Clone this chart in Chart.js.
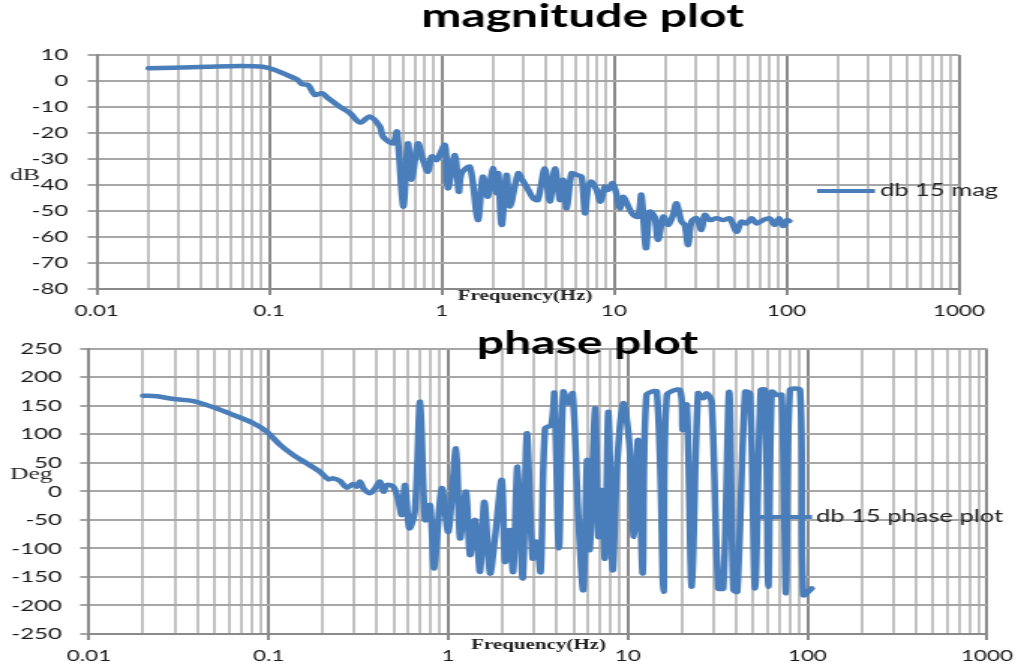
<!DOCTYPE html>
<html>
<head>
<meta charset="utf-8">
<script src="https://cdn.jsdelivr.net/npm/chart.js@4.4.1/dist/chart.umd.min.js"></script>
<style>
  html, body { margin: 0; padding: 0; background: #fff; }
  body { width: 1030px; height: 669px; position: relative; overflow: hidden; }
  canvas { position: absolute; left: 0; }
</style>
</head>
<body>
<canvas id="magChart" width="687" height="320" style="top:0;width:1030px;height:320px"></canvas>
<canvas id="phaseChart" width="687" height="349" style="top:320px;width:1030px;height:349px"></canvas>
<script>
// data -------------------------------------------------------------------------
const magFreq = [
  0.02, 0.028, 0.044, 0.068, 0.092, 0.105, 0.127, 0.145, 0.155, 0.168,
  0.184, 0.202, 0.219, 0.257, 0.294, 0.336, 0.384, 0.439, 0.457, 0.522,
  0.551, 0.599, 0.638, 0.67, 0.729, 0.78, 0.833, 0.875, 0.935, 1.045,
  1.088, 1.194, 1.259, 1.305, 1.459, 1.622, 1.734, 1.854, 1.982, 2.08,
  2.13, 2.23, 2.38, 2.49, 2.78, 2.94, 3.18, 3.4, 3.61, 3.97,
  4.24, 4.54, 4.85, 5.07, 5.31, 5.67, 6.06, 6.48, 6.78, 7.08,
  7.41, 7.92, 8.35, 8.85, 9.24, 9.8, 10.3, 10.8, 11.3, 12.1,
  12.9, 13.8, 14.4, 15.3, 16.1, 17.2, 18.0, 19.3, 20.6, 22.0,
  23.0, 24.6, 25.7, 26.9, 28.1, 30.1, 32.1, 33.6, 35.9, 39.3,
  42.9, 46.9, 51.3, 54.8, 58.6, 62.7, 67.0, 73.1, 80.0, 85.5,
  90.6, 95.5, 100.7, 104
];
const magDb = [
  4.9, 5.1, 5.5, 5.8, 5.5, 4.5, 2.3, 0.6, -1.2, -1.5,
  -5.4, -4.7, -6.5, -9.9, -12.3, -16, -13.7, -17.6, -21.4, -24,
  -19.5, -48.3, -24, -38, -24, -30.4, -34.9, -29, -30.4, -24.6,
  -41.3, -28.5, -42.6, -35.5, -33, -53.5, -36.8, -44.5, -33.5, -43.2,
  -35.5, -55.4, -36.1, -48.3, -35.5, -38, -41.9, -45.1, -45.8, -33.6,
  -46.4, -33.6, -45.8, -38, -49, -35.5, -36.1, -36.8, -50.9, -40.6,
  -38.7, -41.9, -46.4, -40.6, -41.9, -39.3, -43.2, -49, -44.5, -48.3,
  -51.5, -52.2, -43.8, -64.3, -50.3, -52.2, -61.2, -52.2, -55.4, -51.5,
  -47, -54.1, -55.4, -63.1, -54.1, -52.8, -57.3, -51.5, -53.5, -52.8,
  -53.5, -52.8, -58, -54.1, -54.8, -52.8, -54.8, -53.5, -52.8, -55.4,
  -52.8, -55.8, -53.5, -53.9
];

const phaseFreq = [
  0.02, 0.0238, 0.0295, 0.0381, 0.0492, 0.0636, 0.0822, 0.0976, 0.116, 0.137,
  0.163, 0.193, 0.215, 0.229, 0.25, 0.272, 0.296, 0.309, 0.323, 0.337,
  0.367, 0.392, 0.417, 0.436, 0.455, 0.495, 0.527, 0.551, 0.575, 0.607,
  0.653, 0.697, 0.743, 0.792, 0.834, 0.92, 1.001, 1.105, 1.164, 1.256,
  1.322, 1.411, 1.503, 1.589, 1.709, 1.823, 1.986, 2.07, 2.19, 2.3,
  2.43, 2.6, 2.74, 2.95, 3.11, 3.27, 3.46, 3.75, 3.9, 4.13,
  4.37, 4.65, 4.93, 5.3, 5.65, 5.93, 6.13, 6.57, 6.85, 7.15,
  7.46, 7.8, 8.24, 8.7, 9.44, 10.2, 10.8, 11.4, 12.1, 12.7,
  14.5, 15.8, 16.5, 19.5, 20.2, 21.3, 22.7, 24.6, 26.3, 27.5,
  29.3, 31.9, 34.0, 36.7, 38.7, 40.7, 45.0, 47.9, 51.1, 55.0,
  58.1, 60.6, 63.3, 67.5, 71.9, 76.0, 80.0, 91.0, 94.9, 105.7
];
const phaseDeg = [
  167.6, 166.6, 161.8, 158.3, 147.3, 133.8, 119.3, 104.6, 81.2, 63.7,
  49, 34.4, 21.1, 22.8, 18.1, 6.4, 12.9, 8.2, 17, 5.4,
  -3.4, 5.4, 17, -0.5, 11.2, 8.2, -15, -41.3, 11.2, -64.7,
  -32.7, 157.1, -50.2, -23.9, -134.9, 5.4, -70.7, 75.4, -82.3, -0.5,
  -111.5, -50.2, -140.8, -18.1, -143.6, -79.5, 20, -123.3, -67.7, -140.8,
  43.3, -152.4, 101.7, -117.3, -88.2, -140.8, 110.5, 116.3, 171.8, -99.8,
  174.6, 154.3, 171.8, -44.4, -172.9, 54.8, -102.8, 145.5, -79.5, 2.4,
  -117.3, 139.6, -137.9, 43.3, 154.3, 84.2, -79.5, 90, -143.6, 168.9,
  174.6, -175.9, 168.9, 177.6, 107.5, 151.3, -167, 171.8, 163, 171.8,
  157.1, -170, -170, 174.6, -172.9, -175.9, 174.6, 171.8, -170, 178,
  177.6, -167, 174.6, 168.9, 168.9, -178.7, 177.6, 177.6, -181.6, -170
];

const decadeTicks = [0.01, 0.1, 1, 10, 100, 1000];
const decadeLabels = ["0.01", "0.1", "1", "10", "100", "1000"];
//---------------------------------------------------------------------------------

const SX = 687 / 1030; // canvases are drawn narrow and stretched, like the source image
const LINE = "#4a7ebb";

// 1..9 in every decade, plus the last decade
const freqTicks = [];
decadeTicks.slice(0, -1).forEach((d) => {
  for (let k = 1; k <= 9; k++) freqTicks.push(+(d * k).toPrecision(6));
});
freqTicks.push(decadeTicks[decadeTicks.length - 1]);

const decadeIndex = (v) => decadeTicks.findIndex((d) => Math.abs(v - d) / d < 1e-6);

// free text + legend swatch, x given in screen pixels
const overlay = {
  id: "overlay",
  afterDraw(chart, args, opts) {
    const ctx = chart.ctx;
    ctx.save();
    (opts.lines || []).forEach((l) => {
      ctx.strokeStyle = l.color;
      ctx.lineWidth = l.width;
      ctx.beginPath();
      ctx.moveTo(l.x1 * SX, l.y);
      ctx.lineTo(l.x2 * SX, l.y);
      ctx.stroke();
    });
    (opts.texts || []).forEach((t) => {
      ctx.font = t.font;
      ctx.fillStyle = t.color || "#222";
      ctx.textAlign = t.align || "left";
      ctx.textBaseline = t.baseline || "alphabetic";
      ctx.fillText(t.text, t.x * SX, t.y);
    });
    ctx.restore();
  },
};

function xAxis(height) {
  return {
    type: "logarithmic",
    min: 0.01,
    max: 1000,
    afterBuildTicks: (axis) => {
      axis.ticks = freqTicks.map((v) => ({ value: v }));
    },
    afterFit: (axis) => {
      axis.height = height;
    },
    ticks: {
      autoSkip: false,
      maxRotation: 0,
      padding: 7,
      color: "#1a1a1a",
      font: { family: "Lato", size: 15 },
      callback: (v) => {
        const i = decadeIndex(v);
        return i >= 0 ? decadeLabels[i] : "";
      },
    },
    grid: {
      lineWidth: 2,
      tickLength: 6,
      color: (c) => (c.tick && decadeIndex(c.tick.value) >= 0 ? "#8a8a8a" : "#c2c2c2"),
      tickColor: (c) => (c.tick && decadeIndex(c.tick.value) >= 0 ? "#8a8a8a" : "rgba(0,0,0,0)"),
    },
    border: { color: "#8a8a8a", width: 2 },
  };
}

function yAxis(min, max, step, width, pad) {
  return {
    min: min,
    max: max,
    afterFit: (axis) => {
      axis.width = width;
    },
    ticks: {
      stepSize: step,
      padding: pad,
      color: "#1a1a1a",
      font: { family: "Lato", size: 16 },
    },
    grid: { color: "#a6a6a6", lineWidth: 2, tickLength: 6, tickColor: "#a6a6a6" },
    border: { color: "#8a8a8a", width: 2 },
  };
}

function lineDataset(label, xs, ys) {
  return {
    label: label,
    data: xs.map((x, i) => ({ x: x, y: ys[i] })),
    borderColor: LINE,
    backgroundColor: LINE,
    borderWidth: 4.5,
    borderJoinStyle: "round",
    borderCapStyle: "round",
    pointRadius: 0,
    tension: 0.3,
    fill: false,
  };
}

// magnitude --------------------------------------------------------------------
new Chart(document.getElementById("magChart"), {
  type: "line",
  data: { datasets: [lineDataset("db 15 mag", magFreq, magDb)] },
  options: {
    responsive: false,
    animation: false,
    devicePixelRatio: 1,
    layout: { padding: { top: 55, right: 47.4, left: 0, bottom: 0 } },
    scales: {
      x: xAxis(31),
      y: yAxis(-80, 10, 10, 64.5, 13),
    },
    plugins: {
      legend: { display: false },
      tooltip: { enabled: false },
      overlay: {
        lines: [{ x1: 817, x2: 875, y: 191, width: 4, color: LINE }],
        texts: [
          { text: "magnitude plot", x: 582.5, y: 27, align: "center", font: "bold 32px Lato", color: "#000" },
          { text: "dB", x: 10, y: 180, font: "17px 'Liberation Serif'" },
          { text: "Frequency(Hz)", x: 525, y: 300, align: "center", font: "bold 14px 'Liberation Serif'" },
          { text: "db 15 mag", x: 880, y: 191, baseline: "middle", font: "17px Lato" },
        ],
      },
    },
  },
  plugins: [overlay],
});

// phase ------------------------------------------------------------------------
new Chart(document.getElementById("phaseChart"), {
  type: "line",
  data: { datasets: [lineDataset("db 15 phase plot", phaseFreq, phaseDeg)] },
  options: {
    responsive: false,
    animation: false,
    devicePixelRatio: 1,
    layout: { padding: { top: 28.7, right: 28.7, left: 0, bottom: 0 } },
    scales: {
      x: xAxis(35),
      y: yAxis(-250, 250, 50, 59.4, 12),
    },
    plugins: {
      legend: { display: false },
      tooltip: { enabled: false },
      overlay: {
        lines: [{ x1: 760, x2: 812, y: 197, width: 4, color: LINE }],
        texts: [
          { text: "phase plot", x: 587.5, y: 34, align: "center", font: "bold 32px Lato", color: "#000" },
          { text: "Deg", x: 10, y: 159, font: "17px 'Liberation Serif'" },
          { text: "Frequency(Hz)", x: 538.5, y: 329, align: "center", font: "bold 14px 'Liberation Serif'" },
          { text: "db 15 phase plot", x: 816, y: 197, baseline: "middle", font: "17px Lato" },
        ],
      },
    },
  },
  plugins: [overlay],
});
</script>
</body>
</html>
